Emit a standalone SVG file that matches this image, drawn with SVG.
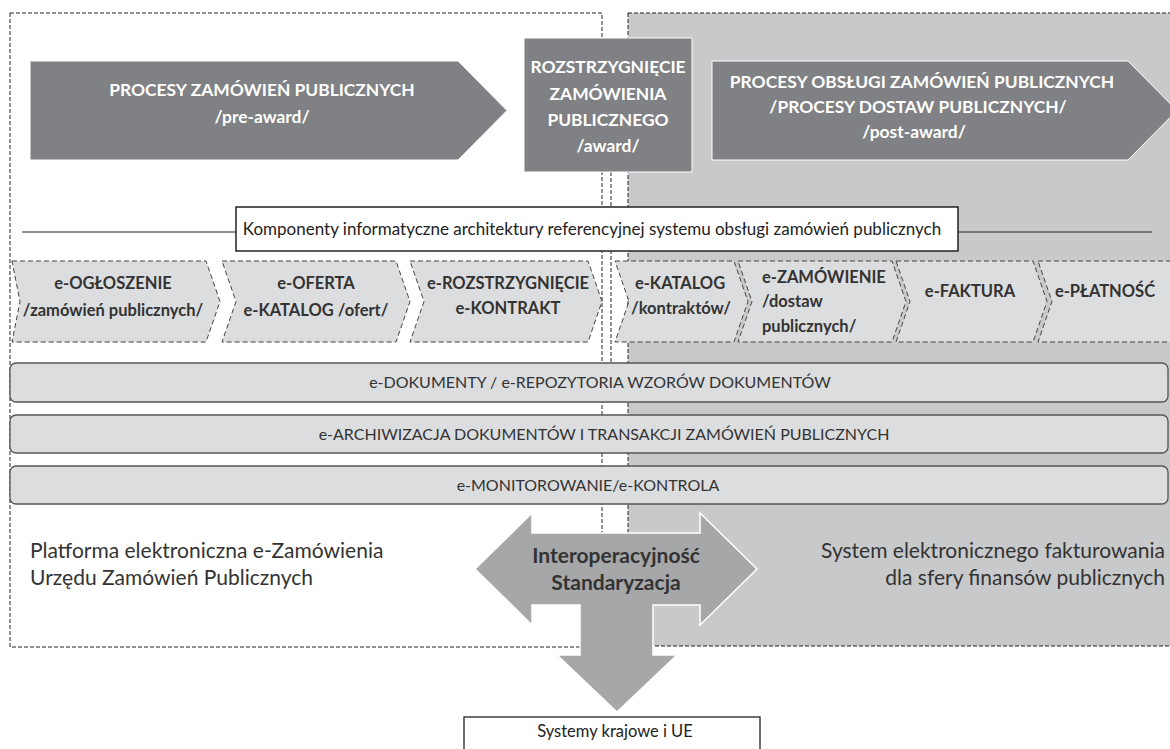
<svg xmlns="http://www.w3.org/2000/svg" width="1170" height="749" viewBox="0 0 1170 749">
<style>
.dash{fill:none;stroke:#222;stroke-width:1;stroke-dasharray:4 2}
.proc{fill:#808184;stroke:#fff;stroke-width:1}
.wt{font-family:Lato,"Liberation Sans",sans-serif;font-weight:bold;fill:#fff;font-size:17.4px;text-anchor:middle}
.chev{fill:#dcdddf;stroke:#444;stroke-width:1;stroke-dasharray:5 3}
.ct{font-family:Lato,"Liberation Sans",sans-serif;font-weight:bold;fill:#333;font-size:16.5px;text-anchor:middle}
.cl{font-family:Lato,"Liberation Sans",sans-serif;font-weight:bold;fill:#333;font-size:16.5px;text-anchor:start}
.bar{fill:#dcdddf;stroke:#555;stroke-width:1.3}
.bt{font-family:Lato,"Liberation Sans",sans-serif;fill:#333;font-size:16px;text-anchor:middle}
.lt{font-family:Lato,"Liberation Sans",sans-serif;fill:#333;font-size:21px}
.ltr{font-family:Lato,"Liberation Sans",sans-serif;fill:#333;font-size:21px;text-anchor:end}
.it{font-family:Lato,"Liberation Sans",sans-serif;font-weight:bold;fill:#333;font-size:21px;text-anchor:middle}
</style>
<rect width="1170" height="749" fill="#fff"/>
<g id="right-platform">
<rect x="628" y="13" width="560" height="633" fill="#c8c9cb"/>
<rect x="628" y="13" width="560" height="633" class="dash"/>
</g>
<g id="left-platform">
<rect x="10" y="13" width="592" height="634" class="dash"/>
<line x1="611" y1="172" x2="611" y2="363" class="dash"/>
</g>
<g id="pre-award">
<polygon class="proc" points="30,61 458,61 507,110.5 458,160 30,160"/>
<text class="wt" x="262" y="96">PROCESY ZAMÓWIEŃ PUBLICZNYCH</text>
<text class="wt" x="262" y="123">/pre-award/</text>
</g>
<g id="post-award">
<polygon class="proc" points="712,61 1128,61 1177,110.5 1128,160 712,160"/>
<text class="wt" x="922" y="88">PROCESY OBSŁUGI ZAMÓWIEŃ PUBLICZNYCH</text>
<text class="wt" x="918" y="113">/PROCESY DOSTAW PUBLICZNYCH/</text>
<text class="wt" x="914" y="138">/post-award/</text>
</g>
<g id="award">
<rect class="proc" x="524" y="38" width="168" height="134"/>
<text class="wt" x="608" y="73">ROZSTRZYGNIĘCIE</text>
<text class="wt" x="608" y="99.5">ZAMÓWIENIA</text>
<text class="wt" x="608" y="126">PUBLICZNEGO</text>
<text class="wt" x="608" y="152">/award/</text>
</g>
<g id="komponenty">
<line x1="22" y1="232" x2="1152" y2="232" stroke="#222" stroke-width="1"/>
<rect x="236" y="207" width="722" height="44" fill="#fff" stroke="#222" stroke-width="1.5"/>
<text x="592" y="235" font-family="Lato, 'Liberation Sans', sans-serif" font-size="17" fill="#222" text-anchor="middle">Komponenty informatyczne architektury referencyjnej systemu obsługi zamówień publicznych</text>
</g>
<g id="ch-ogloszenie">
<polygon class="chev" points="12,261 206,261 220,301.5 206,342 12,342 20,301.5"/>
<text class="ct" x="113" y="289">e-OGŁOSZENIE</text>
<text class="ct" x="113" y="316">/zamówień publicznych/</text>
</g>
<g id="ch-oferta">
<polygon class="chev" points="222,261 396,261 410,301.5 396,342 222,342 236,301.5"/>
<text class="ct" x="316" y="289">e-OFERTA</text>
<text class="ct" x="316" y="316">e-KATALOG /ofert/</text>
</g>
<g id="ch-rozstrzygniecie">
<polygon class="chev" points="410,261 588,261 602,301.5 588,342 410,342 424,301.5"/>
<text class="ct" x="508" y="289">e-ROZSTRZYGNIĘCIE</text>
<text class="ct" x="508" y="314">e-KONTRAKT</text>
</g>
<g id="ch-katalog">
<polygon class="chev" points="615,261 734,261 748,301.5 734,342 615,342 629,301.5"/>
<text class="ct" x="680" y="289">e-KATALOG</text>
<text class="ct" x="681" y="314">/kontraktów/</text>
</g>
<g id="ch-zamowienie">
<polygon class="chev" points="738,261 892,261 906,301.5 892,342 738,342 752,301.5"/>
<text class="cl" x="762" y="283">e-ZAMÓWIENIE</text>
<text class="cl" x="762" y="307">/dostaw</text>
<text class="cl" x="762" y="332">publicznych/</text>
</g>
<g id="ch-faktura">
<polygon class="chev" points="896,261 1033,261 1047,301.5 1033,342 896,342 910,301.5"/>
<text class="ct" x="970" y="297">e-FAKTURA</text>
</g>
<g id="ch-platnosc">
<polygon class="chev" points="1038,261 1190,261 1190,342 1038,342 1052,301.5"/>
<text class="ct" x="1105" y="297">e-PŁATNOŚĆ</text>
</g>
<g id="bar-dokumenty">
<rect class="bar" x="10" y="363" width="1158" height="39" rx="6"/>
<text class="bt" x="600" y="388">e-DOKUMENTY / e-REPOZYTORIA WZORÓW DOKUMENTÓW</text>
</g>
<g id="bar-archiwizacja">
<rect class="bar" x="10" y="415" width="1158" height="38" rx="6"/>
<text class="bt" x="604" y="440">e-ARCHIWIZACJA DOKUMENTÓW I TRANSAKCJI ZAMÓWIEŃ PUBLICZNYCH</text>
</g>
<g id="bar-monitorowanie">
<rect class="bar" x="10" y="466" width="1158" height="38" rx="6"/>
<text class="bt" x="588" y="491">e-MONITOROWANIE/e-KONTROLA</text>
</g>
<g id="label-left">
<text class="lt" x="30" y="558">Platforma elektroniczna e-Zamówienia</text>
<text class="lt" x="30" y="585">Urzędu Zamówień Publicznych</text>
</g>
<g id="label-right">
<text class="ltr" x="1165" y="558">System elektronicznego fakturowania</text>
<text class="ltr" x="1165" y="585">dla sfery finansów publicznych</text>
</g>
<g id="interop">
<path d="M475,569 L532,513 L532,533 L700,533 L700,513 L757,569 L700,625 L700,605 L653,605 L653,655 L677,655 L617,712 L557,655 L580,655 L580,605 L532,605 L532,625 Z" fill="#a6a7a9" stroke="#fff" stroke-width="1.5"/>
<text class="it" x="616" y="563">Interoperacyjność</text>
<text class="it" x="616" y="590">Standaryzacja</text>
</g>
<g id="systemy">
<rect x="464" y="717" width="296" height="40" fill="#fff" stroke="#222" stroke-width="1.3"/>
<text x="615" y="737" font-family="Lato, 'Liberation Sans', sans-serif" font-size="16.5" fill="#222" text-anchor="middle">Systemy krajowe i UE</text>
</g>
</svg>
